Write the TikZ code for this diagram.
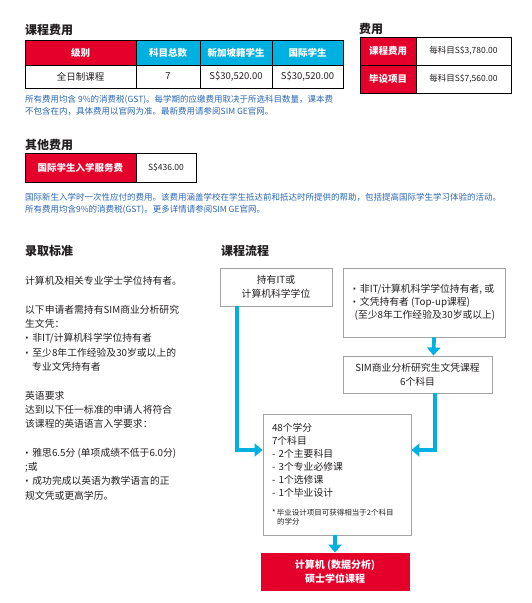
\documentclass[tikz,border=0pt]{standalone}
\usepackage{fontspec}
\setmainfont{Noto Sans CJK SC}
\newfontfamily\dotfont{DejaVu Sans}
\usetikzlibrary{arrows.meta}
\definecolor{simred}{HTML}{E4002B}
\definecolor{simcyan}{HTML}{00B0E0}
\definecolor{noteblue}{HTML}{2A66B0}
\definecolor{boxgray}{HTML}{A3A3A3}
\definecolor{txtdark}{HTML}{231F20}
\newcommand{\dotbul}{{\dotfont\textbf{·}}\hspace{3.5pt}}
\begin{document}
\begin{tikzpicture}[x=1pt,y=-1pt,
    heading/.style={anchor=west,inner sep=0pt,text=txtdark,font=\fontsize{12}{14}\selectfont\bfseries},
    tcell/.style={draw=black,line width=0.028cm,inner sep=0pt,align=center,text=txtdark,font=\fontsize{9.5}{11}\selectfont},
    redcell/.style={tcell,fill=simred,text=white,font=\fontsize{9.5}{11}\selectfont\bfseries},
    bluecell/.style={tcell,fill=simcyan,text=white,font=\fontsize{9.5}{11}\selectfont\bfseries},
    note/.style={anchor=north west,inner sep=0pt,align=left,text=noteblue,font=\fontsize{8.5}{12}\selectfont},
    flowbox/.style={draw=boxgray,line width=0.032cm,inner sep=0pt,align=center,text=txtdark,font=\fontsize{9.8}{13.5}\selectfont},
    flowarrow/.style={draw=simcyan,line width=3.8pt,-{Triangle[length=8pt,width=13pt]}}]
  \useasboundingbox (0,0) rectangle (532,603);%

  % Marking heading of course fees
  \node (feehead) [heading] at (25,30) {课程费用};%

  % Drawing fee table, header row
  \node (grade) [redcell,minimum width=111pt,minimum height=25pt] at (80.5,52.5) {级别};%
  \node (nsubj) [bluecell,minimum width=64pt,minimum height=25pt] at (168,52.5) {科目总数};%
  \node (local) [bluecell,minimum width=72pt,minimum height=25pt] at (236,52.5) {新加坡籍学生};%
  \node (intl) [bluecell,minimum width=71pt,minimum height=25pt] at (307.5,52.5) {国际学生};%

  % Drawing fee table, full time row
  \node (fulltime) [tcell,minimum width=111pt,minimum height=23pt] at (80.5,76.5) {全日制课程};%
  \node (nsubjval) [tcell,minimum width=64pt,minimum height=23pt] at (168,76.5) {7};%
  \node (localval) [tcell,minimum width=72pt,minimum height=23pt] at (236,76.5) {S\$30,520.00};%
  \node (intlval) [tcell,minimum width=71pt,minimum height=23pt] at (307.5,76.5) {S\$30,520.00};%

  % Marking note under fee table
  \node (feenote) [note] at (25,94.8) {所有费用均含 9\%的消费税(GST)。每学期的应缴费用取决于所选科目数量，课本费\\不包含在内，具体费用以官网为准。最新费用请参阅SIM GE官网。};%

  % Marking heading of per-subject fees
  \node (subjhead) [heading] at (359,28.5) {费用};%

  % Drawing per-subject fee table
  \node (coursefee) [redcell,minimum width=56pt,minimum height=28pt] at (388,51) {课程费用};%
  \node (coursefeeval) [tcell,minimum width=95pt,minimum height=28pt,font=\fontsize{8.5}{10}\selectfont] at (463.5,51) {每科目S\$3,780.00};%
  \node (capstone) [redcell,minimum width=56pt,minimum height=28pt] at (388,79) {毕设项目};%
  \node (capstoneval) [tcell,minimum width=95pt,minimum height=28pt,font=\fontsize{8.5}{10}\selectfont] at (463.5,79) {每科目S\$7,560.00};%

  % Marking heading of other fees
  \node (otherhead) [heading] at (25,145) {其他费用};%

  % Drawing other fee table
  \node (svcfee) [redcell,minimum width=111pt,minimum height=29pt] at (80.5,167.5) {国际学生入学服务费};%
  \node (svcfeeval) [tcell,minimum width=60pt,minimum height=29pt,font=\fontsize{8.5}{10}\selectfont] at (166,167.5) {S\$436.00};%

  % Marking note under other fee table
  \node (othernote) [note] at (25,192.8) {国际新生入学时一次性应付的费用。该费用涵盖学校在学生抵达前和抵达时所提供的帮助，包括提高国际学生学习体验的活动。\\所有费用均含9\%的消费税(GST)。更多详情请参阅SIM GE官网。};%

  % Marking admission requirements
  \node (admhead) [heading] at (25,251) {录取标准};%
  \node (admtext) [anchor=north west,inner sep=0pt,align=left,text=txtdark,font=\fontsize{9.8}{14.3}\selectfont] at (25,276.2) {%
    计算机及相关专业学士学位持有者。\\[14.3pt]
    以下申请者需持有SIM商业分析研究\\
    生文凭：\\
    \dotbul 非IT/计算机科学学位持有者\\
    \dotbul 至少8年工作经验及30岁或以上的\\
    \hspace*{7pt}专业文凭持有者\\[14.3pt]
    英语要求\\
    达到以下任一标准的申请人将符合\\
    该课程的英语语言入学要求：\\[14.3pt]
    \dotbul 雅思6.5分 (单项成绩不低于6.0分)\\
    ;或\\
    \dotbul 成功完成以英语为教学语言的正\\
    规文凭或更高学历。};%

  % Marking heading of course pathway
  \node (pathhead) [heading] at (221,251) {课程流程};%

  % Drawing pathway boxes
  \node (itdeg) [flowbox,minimum width=112pt,minimum height=38pt] at (276,287) {持有IT或\\计算机科学学位};%
  \node (nonit) [flowbox,minimum width=162pt,minimum height=69pt,align=left,font=\fontsize{9.8}{13}\selectfont] at (424,302.5) {%
    \dotbul 非IT/计算机科学学位持有者, 或\\
    \dotbul 文凭持有者 (Top-up课程)\\
    \hspace*{2pt}(至少8年工作经验及30岁或以上)};%
  \node (gradcert) [flowbox,minimum width=149pt,minimum height=37pt,font=\fontsize{9.8}{14}\selectfont] at (417.5,374.5) {SIM商业分析研究生文凭课程\\6个科目};%
  \node (core) [flowbox,minimum width=148pt,minimum height=121pt,text width=130pt,align=left,font=\fontsize{9.8}{13}\selectfont] at (337,474.5) {%
    48个学分\\
    7个科目\\
    - 2个主要科目\\
    - 3个专业必修课\\
    - 1个选修课\\
    - 1个毕业设计\par
    \vspace{10pt}
    {\fontsize{7.5}{9}\selectfont\makebox[5pt][l]{*}毕业设计项目可获得相当于2个科目\\
    \hspace*{5pt}的学分\par}};%
  \node (master) [flowbox,draw=simred,fill=simred,text=white,minimum width=148pt,minimum height=37pt,font=\fontsize{10}{14}\selectfont\bfseries] at (335,571.5) {计算机 (数据分析)\\硕士学位课程};%

  % Drawing pathway arrows
  \draw [flowarrow] ([xshift=10pt]nonit.south) -- ([xshift=16pt]gradcert.north);%
  \draw [flowarrow] ([xshift=-39pt]itdeg.south) |- ([yshift=24.5pt]core.west);%
  \draw [flowarrow] ([xshift=17.5pt]gradcert.south) |- ([yshift=24.5pt]core.east);%
  \draw [flowarrow] ([xshift=-2pt]core.south) -- (master.north);%
\end{tikzpicture}
\end{document}
